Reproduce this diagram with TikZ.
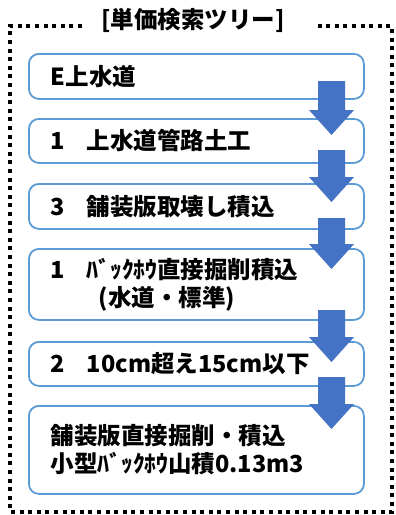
\documentclass[tikz,border=0pt]{standalone}
\usepackage{fontspec}
\usepackage{tikz}
\usetikzlibrary{positioning}
\newfontfamily\jpfont{Noto Sans CJK JP}
\definecolor{boxBlue}{RGB}{91,155,213}
\definecolor{arrBlue}{RGB}{68,114,196}
\newcommand{\numtag}[1]{\makebox[36pt][l]{#1}}

\begin{document}
\begin{tikzpicture}[x=1pt, y=-1pt,
    font=\jpfont\bfseries\fontsize{23.5}{28}\selectfont,
    stepbox/.style={draw=boxBlue, line width=1.8pt, rounded corners=10pt,
      anchor=north west, text width=291pt, inner xsep=22pt, inner ysep=0pt,
      align=left}]
  \useasboundingbox (0,0) rectangle (396,515);
  % outer dotted frame, open at the top for the title
  \node (title) at (193,20) {[単価検索ツリー]};
  \coordinate (fl) at (82,26);
  \coordinate (fr) at (317,26);
  \draw[line width=4pt, dash pattern=on 4pt off 4.6pt]
    (fl) -- (10,26) -- (10,512) -- (392,512) -- (392,26) -- (fr);
  % the search steps
  \node[stepbox, minimum height=45pt] (s1) at (28,53) {E上水道};
  \node[stepbox, minimum height=44pt] (s2) at (28,118) {\numtag{1}上水道管路土工};
  \node[stepbox, minimum height=45pt] (s3) at (28,183) {\numtag{3}舗装版取壊し積込};
  \node[stepbox, minimum height=71pt] (s4) at (28,248)
    {\numtag{1}ﾊﾞｯｸﾎｳ直接掘削積込\\\hspace*{48pt}(水道・標準)};
  \node[stepbox, minimum height=44pt] (s5) at (28,341) {\numtag{2}10cm超え15cm以下};
  \node[stepbox, minimum height=88pt] (s6) at (28,405)
    {舗装版直接掘削・積込\\小型ﾊﾞｯｸﾎｳ山積0.13m3};
  % block arrows: top of shaft / tip
  \foreach \t/\p in {81/135, 150/202, 218/269, 310/362, 377/429}
    \fill[arrBlue] (318,\t) -- (345,\t) -- (345,\p-25) -- (354,\p-25)
      -- (331.5,\p) -- (309,\p-25) -- (318,\p-25) -- cycle;
\end{tikzpicture}
\end{document}
